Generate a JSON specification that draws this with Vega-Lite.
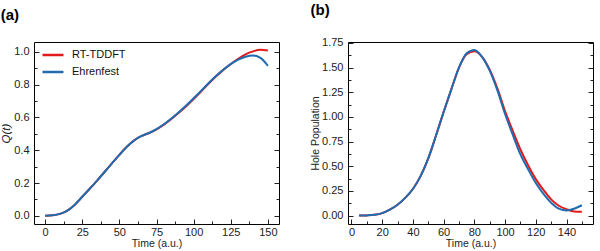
{
  "$schema": "https://vega.github.io/schema/vega-lite/v6.json",
  "padding": {"left": 0, "top": 2, "right": 0, "bottom": 0},
  "background": "white",
  "config": {
    "font": "Liberation Sans",
    "view": {"stroke": "black", "strokeWidth": 1},
    "axis": {"grid": false, "domain": false, "labelFont": "Liberation Sans", "labelFontSize": 11, "labelColor": "#222", "titleFont": "Liberation Sans", "titleFontSize": 10.5, "titleFontWeight": "normal", "titleColor": "#222", "tickColor": "#222"},
    "legend": {"labelFont": "Liberation Sans", "labelFontSize": 11, "labelColor": "#111"},
    "concat": {"spacing": 30}
  },
  "datasets": {
    "a": [
      {"series": "RT-TDDFT", "t": 0, "value": 0},
      {"series": "RT-TDDFT", "t": 5, "value": 0.003},
      {"series": "RT-TDDFT", "t": 10, "value": 0.012},
      {"series": "RT-TDDFT", "t": 15, "value": 0.032},
      {"series": "RT-TDDFT", "t": 20, "value": 0.068},
      {"series": "RT-TDDFT", "t": 25, "value": 0.116},
      {"series": "RT-TDDFT", "t": 30, "value": 0.165},
      {"series": "RT-TDDFT", "t": 35, "value": 0.215},
      {"series": "RT-TDDFT", "t": 40, "value": 0.267},
      {"series": "RT-TDDFT", "t": 45, "value": 0.32},
      {"series": "RT-TDDFT", "t": 50, "value": 0.372},
      {"series": "RT-TDDFT", "t": 55, "value": 0.421},
      {"series": "RT-TDDFT", "t": 60, "value": 0.46},
      {"series": "RT-TDDFT", "t": 65, "value": 0.487},
      {"series": "RT-TDDFT", "t": 70, "value": 0.505},
      {"series": "RT-TDDFT", "t": 75, "value": 0.527},
      {"series": "RT-TDDFT", "t": 80, "value": 0.556},
      {"series": "RT-TDDFT", "t": 85, "value": 0.59},
      {"series": "RT-TDDFT", "t": 90, "value": 0.628},
      {"series": "RT-TDDFT", "t": 95, "value": 0.668},
      {"series": "RT-TDDFT", "t": 100, "value": 0.712},
      {"series": "RT-TDDFT", "t": 105, "value": 0.758},
      {"series": "RT-TDDFT", "t": 110, "value": 0.805},
      {"series": "RT-TDDFT", "t": 115, "value": 0.85},
      {"series": "RT-TDDFT", "t": 120, "value": 0.89},
      {"series": "RT-TDDFT", "t": 125, "value": 0.926},
      {"series": "RT-TDDFT", "t": 130, "value": 0.958},
      {"series": "RT-TDDFT", "t": 135, "value": 0.985},
      {"series": "RT-TDDFT", "t": 140, "value": 1.003},
      {"series": "RT-TDDFT", "t": 145, "value": 1.013},
      {"series": "RT-TDDFT", "t": 150, "value": 1.008},
      {"series": "Ehrenfest", "t": 0, "value": 0},
      {"series": "Ehrenfest", "t": 5, "value": 0.003},
      {"series": "Ehrenfest", "t": 10, "value": 0.012},
      {"series": "Ehrenfest", "t": 15, "value": 0.032},
      {"series": "Ehrenfest", "t": 20, "value": 0.068},
      {"series": "Ehrenfest", "t": 25, "value": 0.116},
      {"series": "Ehrenfest", "t": 30, "value": 0.165},
      {"series": "Ehrenfest", "t": 35, "value": 0.215},
      {"series": "Ehrenfest", "t": 40, "value": 0.267},
      {"series": "Ehrenfest", "t": 45, "value": 0.32},
      {"series": "Ehrenfest", "t": 50, "value": 0.372},
      {"series": "Ehrenfest", "t": 55, "value": 0.421},
      {"series": "Ehrenfest", "t": 60, "value": 0.46},
      {"series": "Ehrenfest", "t": 65, "value": 0.487},
      {"series": "Ehrenfest", "t": 70, "value": 0.505},
      {"series": "Ehrenfest", "t": 75, "value": 0.528},
      {"series": "Ehrenfest", "t": 80, "value": 0.558},
      {"series": "Ehrenfest", "t": 85, "value": 0.593},
      {"series": "Ehrenfest", "t": 90, "value": 0.632},
      {"series": "Ehrenfest", "t": 95, "value": 0.673},
      {"series": "Ehrenfest", "t": 100, "value": 0.717},
      {"series": "Ehrenfest", "t": 105, "value": 0.762},
      {"series": "Ehrenfest", "t": 110, "value": 0.808},
      {"series": "Ehrenfest", "t": 115, "value": 0.852},
      {"series": "Ehrenfest", "t": 120, "value": 0.891},
      {"series": "Ehrenfest", "t": 125, "value": 0.925},
      {"series": "Ehrenfest", "t": 130, "value": 0.952},
      {"series": "Ehrenfest", "t": 135, "value": 0.97},
      {"series": "Ehrenfest", "t": 140, "value": 0.977},
      {"series": "Ehrenfest", "t": 145, "value": 0.963},
      {"series": "Ehrenfest", "t": 150, "value": 0.915}
    ],
    "b": [
      {"series": "RT-TDDFT", "t": 5, "value": 0},
      {"series": "RT-TDDFT", "t": 10, "value": 0.002},
      {"series": "RT-TDDFT", "t": 15, "value": 0.008},
      {"series": "RT-TDDFT", "t": 20, "value": 0.025},
      {"series": "RT-TDDFT", "t": 25, "value": 0.06},
      {"series": "RT-TDDFT", "t": 30, "value": 0.11},
      {"series": "RT-TDDFT", "t": 35, "value": 0.18},
      {"series": "RT-TDDFT", "t": 40, "value": 0.27},
      {"series": "RT-TDDFT", "t": 45, "value": 0.4},
      {"series": "RT-TDDFT", "t": 50, "value": 0.58},
      {"series": "RT-TDDFT", "t": 55, "value": 0.81},
      {"series": "RT-TDDFT", "t": 60, "value": 1.05},
      {"series": "RT-TDDFT", "t": 65, "value": 1.28},
      {"series": "RT-TDDFT", "t": 70, "value": 1.5},
      {"series": "RT-TDDFT", "t": 75, "value": 1.635},
      {"series": "RT-TDDFT", "t": 80, "value": 1.665},
      {"series": "RT-TDDFT", "t": 85, "value": 1.61},
      {"series": "RT-TDDFT", "t": 90, "value": 1.48},
      {"series": "RT-TDDFT", "t": 95, "value": 1.29},
      {"series": "RT-TDDFT", "t": 100, "value": 1.06},
      {"series": "RT-TDDFT", "t": 105, "value": 0.86},
      {"series": "RT-TDDFT", "t": 110, "value": 0.67},
      {"series": "RT-TDDFT", "t": 115, "value": 0.51},
      {"series": "RT-TDDFT", "t": 120, "value": 0.37},
      {"series": "RT-TDDFT", "t": 125, "value": 0.26},
      {"series": "RT-TDDFT", "t": 130, "value": 0.165},
      {"series": "RT-TDDFT", "t": 135, "value": 0.1},
      {"series": "RT-TDDFT", "t": 140, "value": 0.065},
      {"series": "RT-TDDFT", "t": 145, "value": 0.042},
      {"series": "RT-TDDFT", "t": 150, "value": 0.038},
      {"series": "Ehrenfest", "t": 5, "value": 0},
      {"series": "Ehrenfest", "t": 10, "value": 0.002},
      {"series": "Ehrenfest", "t": 15, "value": 0.008},
      {"series": "Ehrenfest", "t": 20, "value": 0.025},
      {"series": "Ehrenfest", "t": 25, "value": 0.06},
      {"series": "Ehrenfest", "t": 30, "value": 0.11},
      {"series": "Ehrenfest", "t": 35, "value": 0.18},
      {"series": "Ehrenfest", "t": 40, "value": 0.27},
      {"series": "Ehrenfest", "t": 45, "value": 0.4},
      {"series": "Ehrenfest", "t": 50, "value": 0.58},
      {"series": "Ehrenfest", "t": 55, "value": 0.81},
      {"series": "Ehrenfest", "t": 60, "value": 1.05},
      {"series": "Ehrenfest", "t": 65, "value": 1.28},
      {"series": "Ehrenfest", "t": 70, "value": 1.5},
      {"series": "Ehrenfest", "t": 75, "value": 1.645},
      {"series": "Ehrenfest", "t": 80, "value": 1.68},
      {"series": "Ehrenfest", "t": 85, "value": 1.61},
      {"series": "Ehrenfest", "t": 90, "value": 1.47},
      {"series": "Ehrenfest", "t": 95, "value": 1.27},
      {"series": "Ehrenfest", "t": 100, "value": 1.03},
      {"series": "Ehrenfest", "t": 105, "value": 0.82},
      {"series": "Ehrenfest", "t": 110, "value": 0.62},
      {"series": "Ehrenfest", "t": 115, "value": 0.47},
      {"series": "Ehrenfest", "t": 120, "value": 0.33},
      {"series": "Ehrenfest", "t": 125, "value": 0.22},
      {"series": "Ehrenfest", "t": 130, "value": 0.13},
      {"series": "Ehrenfest", "t": 135, "value": 0.07},
      {"series": "Ehrenfest", "t": 140, "value": 0.052},
      {"series": "Ehrenfest", "t": 145, "value": 0.07},
      {"series": "Ehrenfest", "t": 150, "value": 0.105}
    ]
  },
  "hconcat": [
    {
      "width": 245,
      "height": 182,
      "title": {"text": "(a)", "anchor": "start", "frame": "bounds", "fontSize": 15, "fontWeight": "bold", "font": "Liberation Sans", "offset": 19, "color": "#000"},
      "data": {"name": "a"},
      "encoding": {
        "x": {"field": "t", "type": "quantitative", "scale": {"domain": [-7.5, 157.5], "nice": false, "zero": false},
          "axis": {"title": "Time (a.u.)", "values": [0, 12.5, 25, 37.5, 50, 62.5, 75, 87.5, 100, 112.5, 125, 137.5, 150],
            "labelExpr": "datum.value % 25 === 0 ? datum.label : ''",
            "tickSize": {"condition": {"test": "datum.value % 25 === 0", "value": -5}, "value": -3},
            "labelPadding": 7, "titlePadding": 1}}
      },
      "layer": [
        {
          "mark": {"type": "line", "strokeWidth": 2, "interpolate": "monotone"},
          "encoding": {
            "y": {"field": "value", "type": "quantitative", "scale": {"domain": [-0.05, 1.06], "nice": false, "zero": false},
              "axis": {"title": "Q(t)", "titleFontStyle": "italic", "titleFontSize": 11.5, "format": ".1f", "values": [0, 0.1, 0.2, 0.3, 0.4, 0.5, 0.6, 0.7, 0.8, 0.9, 1.0],
                "labelExpr": "round(datum.value*10) % 2 === 0 ? datum.label : ''",
                "tickSize": {"condition": {"test": "round(datum.value*10) % 2 === 0", "value": -5}, "value": -3},
                "labelPadding": 10, "titlePadding": 2}},
            "color": {"field": "series", "type": "nominal",
              "scale": {"domain": ["RT-TDDFT", "Ehrenfest"], "range": ["#e31a1c", "#1f6cb0"]},
              "legend": {"orient": "none", "legendX": 7, "legendY": 1, "title": null, "symbolType": "stroke", "symbolStrokeWidth": 2.5, "symbolSize": 441, "padding": 0, "rowPadding": -1.7, "labelOffset": 7}}
          }
        },
        {
          "mark": {"type": "line", "strokeOpacity": 0},
          "encoding": {
            "y": {"field": "value", "type": "quantitative",
              "axis": {"orient": "right", "title": null, "labels": false, "labelPadding": 0, "titlePadding": 0, "minExtent": 0, "maxExtent": 0, "values": [0, 0.1, 0.2, 0.3, 0.4, 0.5, 0.6, 0.7, 0.8, 0.9, 1.0],
                "tickSize": {"condition": {"test": "round(datum.value*10) % 2 === 0", "value": -5}, "value": -3}}}
          }
        }
      ],
      "resolve": {"axis": {"y": "independent"}}
    },
    {
      "width": 245,
      "height": 182,
      "title": {"text": "(b)", "anchor": "start", "frame": "bounds", "fontSize": 15, "fontWeight": "bold", "font": "Liberation Sans", "offset": 19, "color": "#000"},
      "data": {"name": "b"},
      "encoding": {
        "x": {"field": "t", "type": "quantitative", "scale": {"domain": [-2.25, 157.25], "nice": false, "zero": false},
          "axis": {"title": "Time (a.u.)", "values": [0, 10, 20, 30, 40, 50, 60, 70, 80, 90, 100, 110, 120, 130, 140, 150],
            "labelExpr": "datum.value % 20 === 0 ? datum.label : ''",
            "tickSize": {"condition": {"test": "datum.value % 20 === 0", "value": -5}, "value": -3},
            "labelPadding": 7, "titlePadding": 1}}
      },
      "layer": [
        {
          "mark": {"type": "line", "strokeWidth": 2, "interpolate": "monotone"},
          "encoding": {
            "y": {"field": "value", "type": "quantitative", "scale": {"domain": [-0.085, 1.76], "nice": false, "zero": false},
              "axis": {"title": "Hole Population", "format": ".2f", "values": [0, 0.125, 0.25, 0.375, 0.5, 0.625, 0.75, 0.875, 1.0, 1.125, 1.25, 1.375, 1.5, 1.625, 1.75],
                "labelExpr": "round(datum.value*8) % 2 === 0 ? datum.label : ''",
                "tickSize": {"condition": {"test": "round(datum.value*8) % 2 === 0", "value": -5}, "value": -3},
                "labelPadding": 10, "titlePadding": 1}},
            "color": {"field": "series", "type": "nominal",
              "scale": {"domain": ["RT-TDDFT", "Ehrenfest"], "range": ["#e31a1c", "#1f6cb0"]},
              "legend": {"orient": "none", "legendX": 7, "legendY": 1, "title": null, "symbolType": "stroke", "symbolStrokeWidth": 2.5, "symbolSize": 324, "padding": 0, "rowPadding": -3, "labelOffset": 5}}
          }
        },
        {
          "mark": {"type": "line", "strokeOpacity": 0},
          "encoding": {
            "y": {"field": "value", "type": "quantitative",
              "axis": {"orient": "right", "title": null, "labels": false, "labelPadding": 0, "titlePadding": 0, "minExtent": 0, "maxExtent": 0, "values": [0, 0.125, 0.25, 0.375, 0.5, 0.625, 0.75, 0.875, 1.0, 1.125, 1.25, 1.375, 1.5, 1.625, 1.75],
                "tickSize": {"condition": {"test": "round(datum.value*8) % 2 === 0", "value": -5}, "value": -3}}}
          }
        }
      ],
      "resolve": {"axis": {"y": "independent"}}
    }
  ]
}
